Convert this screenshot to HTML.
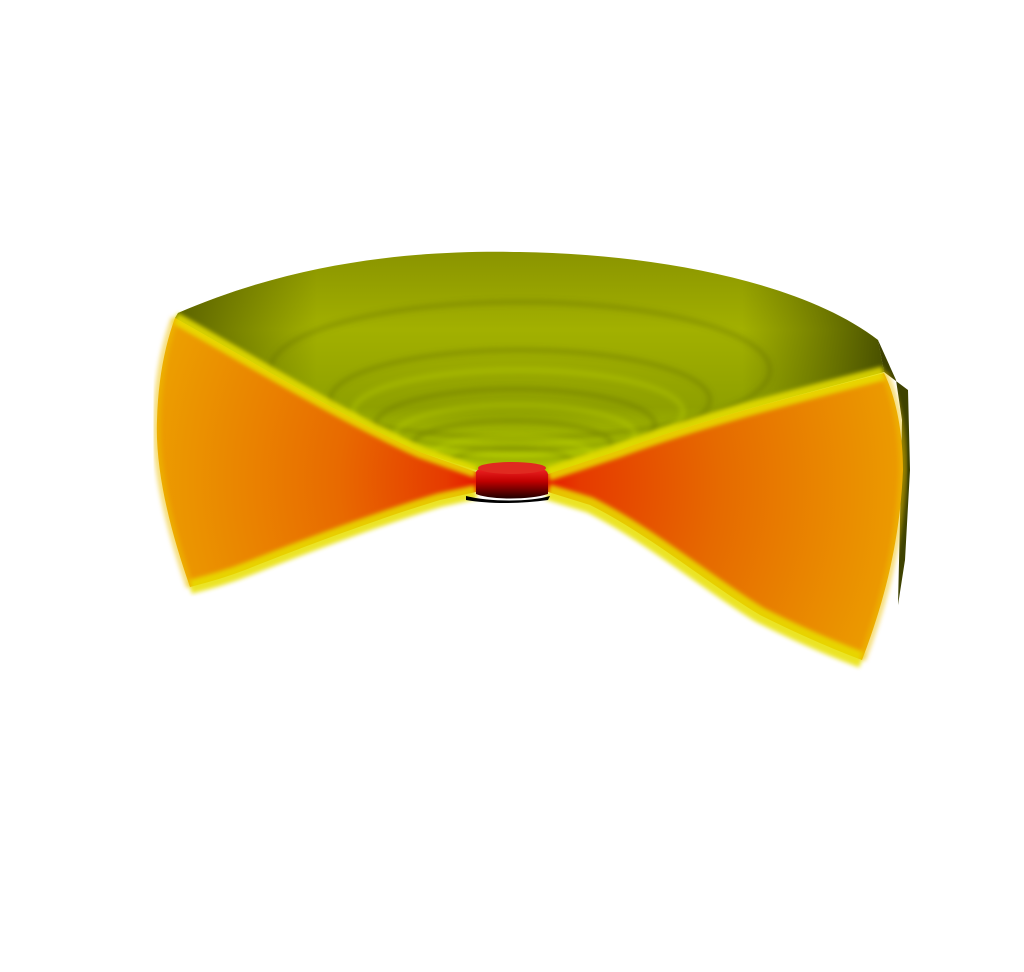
<!DOCTYPE html>
<html><head><meta charset="utf-8"><title>Disk render</title>
<style>html,body{margin:0;padding:0;background:#fff;width:1024px;height:972px;overflow:hidden}</style>
</head><body>
<svg width="1024" height="972" viewBox="0 0 1024 972" xmlns="http://www.w3.org/2000/svg">
<defs>
  <linearGradient id="bowl" x1="0" y1="0" x2="0" y2="1">
    <stop offset="0" stop-color="#8a9400"/>
    <stop offset="0.35" stop-color="#a2b000"/>
    <stop offset="0.7" stop-color="#8fa000"/>
    <stop offset="1" stop-color="#b8d000"/>
  </linearGradient>
  <linearGradient id="bowlSide" x1="0" y1="0" x2="1" y2="0">
    <stop offset="0" stop-color="#4a5000" stop-opacity="0.8"/>
    <stop offset="0.2" stop-color="#4a5000" stop-opacity="0"/>
    <stop offset="0.8" stop-color="#4a5000" stop-opacity="0"/>
    <stop offset="1" stop-color="#3a4000" stop-opacity="0.85"/>
  </linearGradient>
  <radialGradient id="wedgeL" cx="500" cy="480" r="360" gradientUnits="userSpaceOnUse">
    <stop offset="0" stop-color="#e80000"/>
    <stop offset="0.15" stop-color="#e63a00"/>
    <stop offset="0.45" stop-color="#e86a00"/>
    <stop offset="1" stop-color="#eca000"/>
  </radialGradient>
  <radialGradient id="wedgeR" cx="520" cy="485" r="400" gradientUnits="userSpaceOnUse">
    <stop offset="0" stop-color="#e80000"/>
    <stop offset="0.15" stop-color="#e63a00"/>
    <stop offset="0.5" stop-color="#e66a00"/>
    <stop offset="1" stop-color="#eca000"/>
  </radialGradient>
  <linearGradient id="cyl" x1="0" y1="0" x2="0" y2="1">
    <stop offset="0" stop-color="#ff3030"/>
    <stop offset="0.5" stop-color="#c00000"/>
    <stop offset="1" stop-color="#200000"/>
  </linearGradient>
  <filter id="blur3"><feGaussianBlur stdDeviation="3"/></filter>
  <filter id="blur2"><feGaussianBlur stdDeviation="2"/></filter>
</defs>

<path d="M178,313 C300,260 420,250 520,252 C650,254 800,280 878,340 L884,372 C800,395 700,420 620,450 L548,474 L476,470 L420,452 C330,410 250,360 175,318 Z" fill="url(#bowl)"/>
<path d="M178,313 C300,260 420,250 520,252 C650,254 800,280 878,340 L884,372 C800,395 700,420 620,450 L548,474 L476,470 L420,452 C330,410 250,360 175,318 Z" fill="url(#bowlSide)"/>
<g fill="none" stroke="#5a6400" stroke-opacity="0.5" stroke-width="3" filter="url(#blur3)">
  <ellipse cx="512" cy="462" rx="60" ry="14"/>
  <ellipse cx="512" cy="445" rx="100" ry="24"/>
  <ellipse cx="515" cy="425" rx="140" ry="36"/>
  <ellipse cx="520" cy="400" rx="190" ry="50"/>
  <ellipse cx="520" cy="370" rx="250" ry="68"/>
</g>
<g fill="none" stroke="#c8e000" stroke-opacity="0.5" stroke-width="3" filter="url(#blur3)">
  <ellipse cx="512" cy="455" rx="80" ry="18"/>
  <ellipse cx="515" cy="435" rx="120" ry="30"/>
  <ellipse cx="518" cy="412" rx="165" ry="42"/>
</g>

<path d="M878,340 L884,372 L908,390 L910,470 L905,560 L898,605 L900,520 L902,420 L896,380 Z" fill="#3e4200"/>

<path d="M175,318 C250,360 330,410 420,452 L476,472 L476,492 L440,500 C380,518 300,548 250,568 C225,578 205,583 190,587 C170,530 155,470 157,420 C158,380 165,345 175,318 Z" fill="url(#wedgeL)"/>
<path d="M175,318 C250,360 330,410 420,452 L476,472" fill="none" stroke="#e8e000" stroke-width="12" filter="url(#blur2)" opacity="0.85"/>
<path d="M476,492 L440,500 C380,518 300,548 250,568 C225,578 205,583 190,587" fill="none" stroke="#e8e000" stroke-width="14" filter="url(#blur2)" opacity="0.85"/>
<path d="M190,587 C170,530 155,470 157,420 C158,380 165,345 175,318" fill="none" stroke="#eec000" stroke-width="8" filter="url(#blur2)" opacity="0.5"/>

<path d="M884,373 C800,395 700,420 620,450 L548,474 L548,492 L590,505 C650,535 710,585 760,615 C800,635 835,650 862,660 C885,600 900,540 903,470 C903,430 895,395 884,373 Z" fill="url(#wedgeR)"/>
<path d="M884,373 C800,395 700,420 620,450 L548,474" fill="none" stroke="#e8e000" stroke-width="14" filter="url(#blur2)" opacity="0.85"/>
<path d="M548,492 L590,505 C650,535 710,585 760,615 C800,635 835,650 862,660" fill="none" stroke="#e8e000" stroke-width="16" filter="url(#blur2)" opacity="0.85"/>
<path d="M862,660 C885,600 900,540 903,470 C903,430 895,395 884,373" fill="none" stroke="#eec000" stroke-width="8" filter="url(#blur2)" opacity="0.5"/>

<path d="M476,472 C480,462 545,460 548,474 L548,494 C530,500 490,500 476,494 Z" fill="url(#cyl)"/>
<ellipse cx="512" cy="468" rx="34" ry="6" fill="#e02a20"/>
<path d="M466,496 C490,502 530,502 550,496 L548,500 C520,504 490,504 466,500 Z" fill="#000"/>
</svg>
</body></html>
